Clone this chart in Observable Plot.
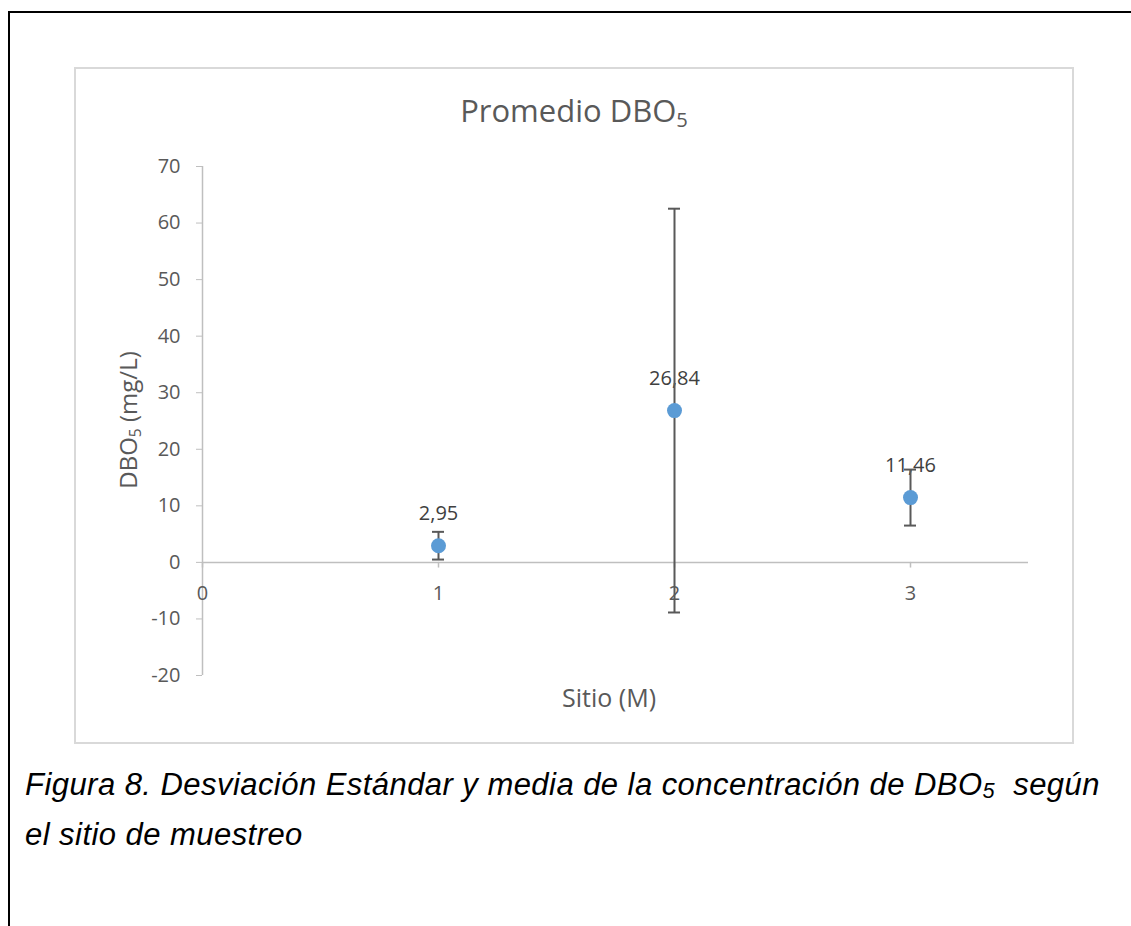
<!DOCTYPE html>
<html>
<head>
<meta charset="utf-8">
<script src="https://cdn.jsdelivr.net/npm/d3@7"></script>
<script src="https://cdn.jsdelivr.net/npm/@observablehq/plot@0.6"></script>
<style>
  html, body { margin: 0; padding: 0; background: #fff; }
  #page { position: relative; width: 1131px; height: 926px; overflow: hidden; }
  #border { position: absolute; left: 8px; top: 11px; right: -10px; bottom: -10px; border-top: 2px solid #000; border-left: 2px solid #000; }
  #box { position: absolute; left: 74px; top: 67px; width: 1000px; height: 677px; box-sizing: border-box; border: 2px solid #d9d9d9; }
  #chart { position: absolute; left: 74px; top: 67px; }
  .t { position: absolute; font-family: "Open Sans", sans-serif; color: #595959; white-space: nowrap; }
  #title { left: 574px; top: 95px; transform: translateX(-50%); font-size: 31px; line-height: 30px; }
  #title sub, #ylab sub { font-size: 0.65em; vertical-align: -0.25em; line-height: 0; }
  #ylab { left: 128px; top: 420px; transform: translate(-50%, -50%) rotate(-90deg); font-size: 24px; line-height: 24px; }
  #xlab { left: 609px; top: 697px; transform: translate(-50%, -50%); font-size: 25px; line-height: 25px; }
  #caption { position: absolute; left: 25px; top: 760px; font-family: "Liberation Sans", Arial, sans-serif; font-style: italic; font-size: 31px; letter-spacing: 0.45px; line-height: 50px; color: #000; white-space: nowrap; }
  #caption sub { font-size: 0.7em; vertical-align: -0.15em; line-height: 0; }
</style>
</head>
<body>
<div id="page">
  <div id="border"></div>
  <div id="box"></div>
  <div id="chart"></div>
  <div class="t" id="title">Promedio DBO<sub>5</sub></div>
  <div class="t" id="ylab">DBO<sub>5</sub> (mg/L)</div>
  <div class="t" id="xlab">Sitio (M)</div>
  <div id="caption">Figura 8. Desviación Estándar y media de la concentración de DBO<sub>5</sub>&nbsp; según<br>el sitio de muestreo</div>
</div>
<script>
// Data
const sites = [1, 2, 3];
const means = [2.95, 26.84, 11.46];
const stdDevs = [2.45, 35.7, 4.95];
const yTicks = [-20, -10, 0, 10, 20, 30, 40, 50, 60, 70];
const xTicks = [0, 1, 2, 3];

const data = sites.map((s, i) => ({
  site: s,
  mean: means[i],
  lo: means[i] - stdDevs[i],
  hi: means[i] + stdDevs[i],
  label: means[i].toFixed(2).replace(".", ",")
}));

const axisGray = "#bfbfbf";
const textGray = "#595959";

const chart = Plot.plot({
  width: 1000,
  height: 676,
  marginLeft: 128,
  marginRight: 46,
  marginTop: 99,
  marginBottom: 68,
  style: { fontFamily: "Open Sans, sans-serif", background: "transparent", overflow: "visible" },
  x: { domain: [0, 3.5], axis: null },
  y: { domain: [-20, 70], axis: null },
  marks: [
    Plot.axisY({
      ticks: yTicks, tickSize: 6, tickPadding: 16,
      stroke: axisGray, fill: textGray, fontSize: 20,
      tickFormat: d => String(d), label: null
    }),
    Plot.ruleX([0], { y1: -20, y2: 70, stroke: axisGray, strokeWidth: 1.5 }),
    Plot.ruleY([0], { x1: 0, x2: 3.5, stroke: axisGray, strokeWidth: 1.5 }),
    Plot.ruleX(xTicks, { x: d => d, y1: 0, y2: -1, stroke: axisGray, strokeWidth: 1.5 }),
    Plot.text(xTicks, { x: d => d, y: 0, text: d => String(d), dy: 31, fill: textGray, fontSize: 20 }),
    Plot.text(data, { x: "site", y: "mean", text: "label", dy: -32, fill: "#404040", fontSize: 20 }),
    Plot.ruleX(data, { x: "site", y1: "lo", y2: "hi", stroke: "#595959", strokeWidth: 2 }),
    Plot.ruleY(data, { x1: "site", x2: "site", y: "hi", insetLeft: -6, insetRight: -6, stroke: "#595959", strokeWidth: 2 }),
    Plot.ruleY(data, { x1: "site", x2: "site", y: "lo", insetLeft: -6, insetRight: -6, stroke: "#595959", strokeWidth: 2 }),
    Plot.dot(data, { x: "site", y: "mean", r: 7.5, fill: "#5B9BD5", stroke: null })
  ]
});
document.getElementById("chart").appendChild(chart);
</script>
</body>
</html>
